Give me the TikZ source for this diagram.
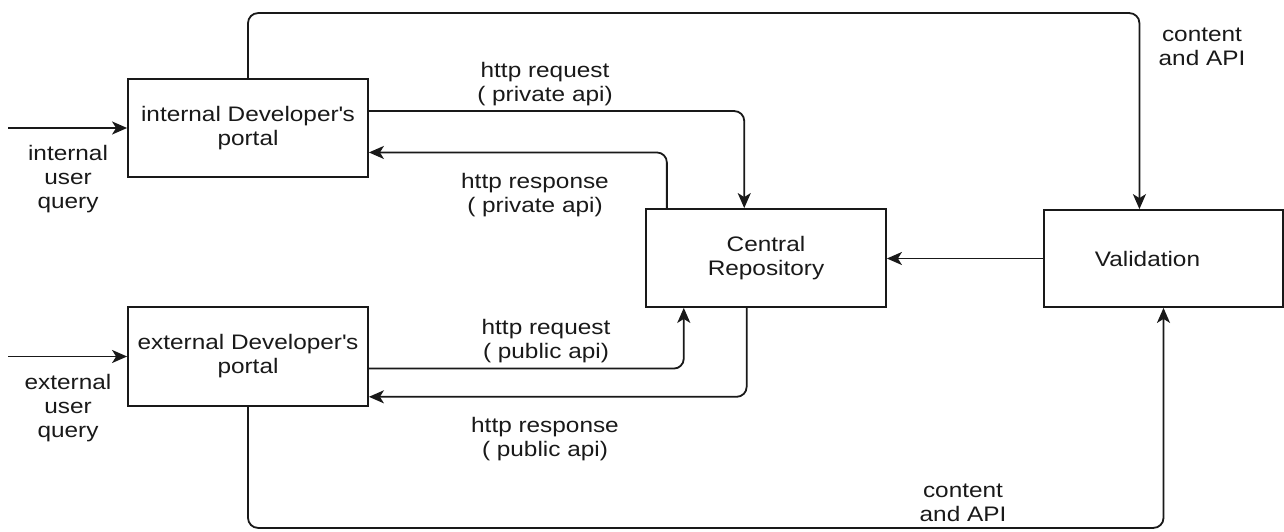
\documentclass[tikz,border=0pt]{standalone}
\usepackage{fontspec}
\setmainfont{Liberation Sans}[FakeStretch=1.16]
\usetikzlibrary{arrows.meta,calc}
\definecolor{ink}{RGB}{25,25,25}
\begin{document}
\begin{tikzpicture}[x=1pt,y=-1pt,
  font=\fontsize{21}{24}\selectfont,
  >={Stealth[length=15pt,width=13pt,inset=4pt]},
  box/.style={draw=ink,line width=1.8pt,minimum width=240pt,minimum height=98pt,align=center,inner sep=0pt,text=ink},
  lbl/.style={align=center,inner sep=0pt,text=ink},
  arr/.style={draw=ink,line width=1.8pt,rounded corners=10pt,->}]
\useasboundingbox (0,0) rectangle (1284,532);
\fill[white] (0,0) rectangle (1284,532);
% boxes
\node[box] (ip) at (248,128) {internal Developer\textquotesingle s\\portal};
\node[box,minimum height=99pt] (ep) at (248,356.5) {external Developer\textquotesingle s\\portal};
\node[box] (cr) at (766,258) {Central\\Repository};
\node[box,minimum width=239pt,minimum height=97pt] (val) at (1163.5,258.5) {Validation\hspace{32pt}};
% free ends
\coordinate (iin) at (8,128);
\coordinate (ein) at (8,356.5);
% attachment points
\coordinate (p1) at ($(ip.north east)!0.33!(ip.south east)$);
\coordinate (p2) at ($(ip.north east)!0.745!(ip.south east)$);
\coordinate (p3) at ($(ep.north east)!0.62!(ep.south east)$);
\coordinate (p4) at ($(ep.north east)!0.90!(ep.south east)$);
\coordinate (c1) at ($(cr.north west)!0.41!(cr.north east)$);
\coordinate (c2) at ($(cr.north west)!0.09!(cr.north east)$);
\coordinate (c3) at ($(cr.south west)!0.16!(cr.south east)$);
\coordinate (c4) at ($(cr.south west)!0.42!(cr.south east)$);
\coordinate (v1) at ($(val.north west)!0.40!(val.north east)$);
% connectors
\draw[arr] (iin) -- (ip.west);
\draw[arr] (ein) -- (ep.west);
\draw[arr] (p1) -| (c1);
\draw[arr] (c2) |- (p2);
\draw[arr] (p3) -| (c3);
\draw[arr] (c4) |- (p4);
\draw[arr] (val.west) -- (val.west -| cr.east);
\draw[arr] (ip.north) -- ++(0,-65) -| (v1);
\draw[arr] (ep.south) -- ++(0,121) -| (val.south);
% labels
\node[lbl] (lq1) at (68,179) {internal\\user\\query};
\node[lbl] (lq2) at (68,408) {external\\user\\query};
\node[lbl] (l1) at (545,84) {http request\\( private api)};
\node[lbl] (l2) at (535,195) {http response\\( private api)};
\node[lbl] (l3) at (546,341) {http request\\( public api)};
\node[lbl] (l4) at (545,439) {http response\\( public api)};
\node[lbl] (l5) at (1202,47) {content\\and API};
\node[lbl] (l6) at (963,503) {content\\and API};
\end{tikzpicture}
\end{document}
